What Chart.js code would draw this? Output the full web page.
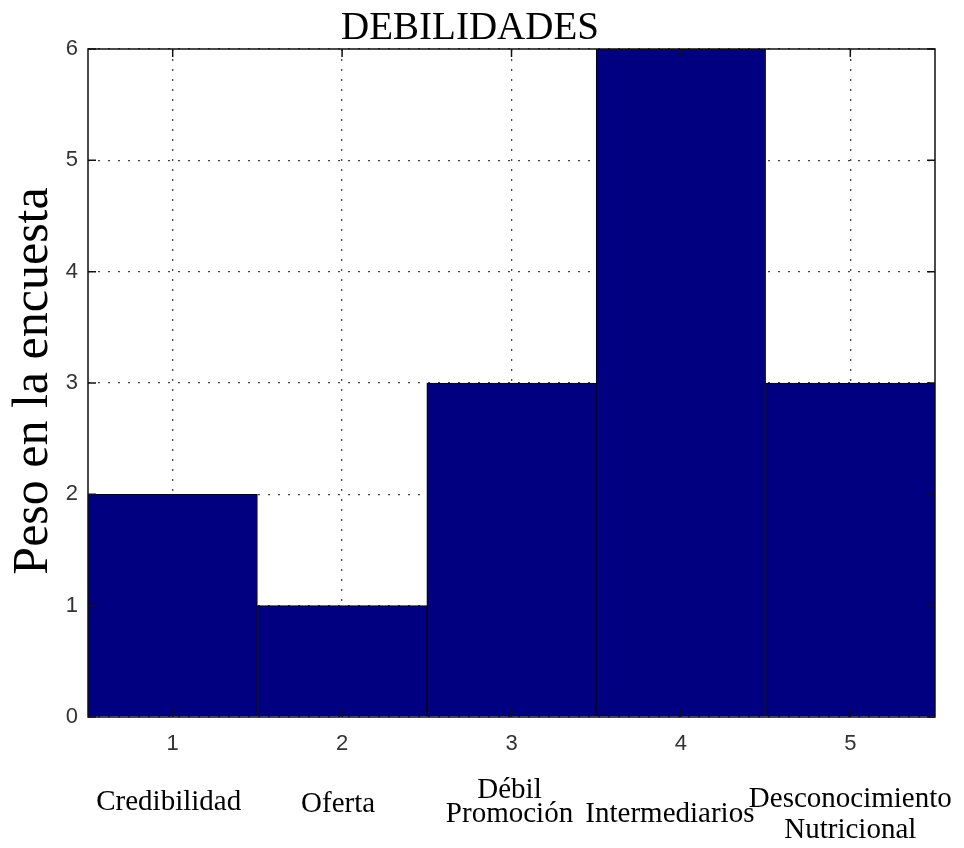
<!DOCTYPE html>
<html>
<head>
<meta charset="utf-8">
<script src="https://cdn.jsdelivr.net/npm/chart.js@4"></script>
<style>
	html, body { margin: 0; padding: 0; background: #fff; }
	#wrap { width: 964px; height: 848px; }
</style>
</head>
<body>
<div id="wrap"><canvas id="chart" width="964" height="848"></canvas></div>
<script>
	'use strict';

	// Data.
	var tickLabels = ['1', '2', '3', '4', '5'];
	var pesos = [2, 1, 3, 6, 3];
	var categorias = [
		['Credibilidad'],
		['Oferta'],
		['Débil', 'Promoción'],
		['Intermediarios'],
		['Desconocimiento', 'Nutricional']
	];
	var titulo = 'DEBILIDADES';
	var yTitulo = 'Peso en la encuesta';

	// Placement of the category names under the tick numbers (dx, first baseline, line step).
	var catLayout = [
		{ dx: -4, y: 810, step: 0 },
		{ dx: -4, y: 812, step: 0 },
		{ dx: -2, y: 798, step: 24 },
		{ dx: -11, y: 822, step: 0 },
		{ dx: 0, y: 807, step: 31 }
	];

	var serif = '"Liberation Serif", "Times New Roman", serif';
	var sans = '"Liberation Sans", Arial, sans-serif';

	var matlabFrame = {
		id: 'matlabFrame',
		afterDraw: function (chart) {
			var ctx = chart.ctx;
			var a = chart.chartArea;
			var xs = chart.scales.x;
			var ys = chart.scales.y;
			var tick = 8;

			ctx.save();
			ctx.strokeStyle = '#111';
			ctx.lineWidth = 1.5;
			ctx.strokeRect(a.left, a.top, a.right - a.left, a.bottom - a.top);

			// Inward tick marks on all four sides.
			ctx.beginPath();
			tickLabels.forEach(function (t, i) {
				var px = xs.getPixelForValue(i);
				ctx.moveTo(px, a.bottom); ctx.lineTo(px, a.bottom - tick);
				ctx.moveTo(px, a.top); ctx.lineTo(px, a.top + tick);
			});
			ys.ticks.forEach(function (t) {
				var py = ys.getPixelForValue(t.value);
				ctx.moveTo(a.left, py); ctx.lineTo(a.left + tick, py);
				ctx.moveTo(a.right, py); ctx.lineTo(a.right - tick, py);
			});
			ctx.stroke();

			// Title.
			ctx.fillStyle = '#000';
			ctx.font = '39px ' + serif;
			ctx.textAlign = 'center';
			ctx.textBaseline = 'alphabetic';
			ctx.fillText(titulo, 470, 39);

			// Y axis title.
			ctx.save();
			ctx.translate(47, (a.top + a.bottom) / 2 - 2);
			ctx.rotate(-Math.PI / 2);
			ctx.font = '50px ' + serif;
			ctx.fillText(yTitulo, 0, 0);
			ctx.restore();

			// Category names.
			ctx.font = '29px ' + serif;
			categorias.forEach(function (lines, i) {
				var lay = catLayout[i];
				var cx = xs.getPixelForValue(i) + lay.dx;
				lines.forEach(function (line, j) {
					ctx.fillText(line, cx, lay.y + j * lay.step);
				});
			});
			ctx.restore();
		}
	};

	new Chart(document.getElementById('chart').getContext('2d'), {
		type: 'bar',
		data: {
			labels: tickLabels,
			datasets: [{
				label: titulo,
				data: pesos,
				backgroundColor: '#000080',
				borderColor: '#000',
				borderWidth: 1,
				barPercentage: 1,
				categoryPercentage: 1
			}]
		},
		options: {
			responsive: false,
			animation: false,
			layout: {
				padding: { top: 49, right: 29, left: 0, bottom: 0 }
			},
			plugins: {
				legend: { display: false },
				tooltip: { enabled: false }
			},
			scales: {
				x: {
					type: 'category',
					offset: true,
					grid: {
						offset: false,
						color: '#444',
						lineWidth: 1.3,
						drawTicks: false
					},
					border: { display: false, dash: [2, 8] },
					ticks: {
						padding: 14,
						color: '#333',
						font: { family: sans, size: 22 }
					},
					afterFit: function (scale) {
						scale.height = 131;
					}
				},
				y: {
					min: 0,
					max: 6,
					grid: {
						color: '#444',
						lineWidth: 1.3,
						drawTicks: false
					},
					border: { display: false, dash: [2, 8] },
					ticks: {
						stepSize: 1,
						padding: 10,
						color: '#333',
						font: { family: sans, size: 22 }
					},
					afterFit: function (scale) {
						scale.width = 88;
					}
				}
			}
		},
		plugins: [matlabFrame]
	});
</script>
</body>
</html>
